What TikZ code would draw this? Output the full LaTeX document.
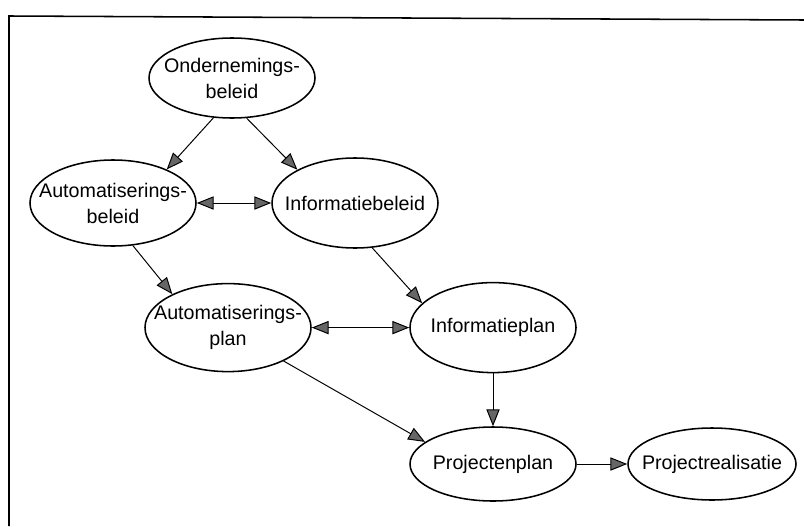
\documentclass[tikz,border=0pt]{standalone}
\usepackage{fontspec}
\setmainfont{Liberation Sans}
\usetikzlibrary{shapes.geometric,arrows.meta}
\begin{document}
\begin{tikzpicture}[
    fase/.style={ellipse, draw, line width=1.1pt, inner xsep=-1cm, inner ysep=0pt,
      minimum width=4.15cm, minimum height=2.2cm, align=center,
      font=\fontsize{14}{18.5}\selectfont},
    >={Triangle[length=4.2mm,width=3.3mm,fill=black!60]},
    pijl/.style={->, line width=0.7pt}
  ]
  \useasboundingbox (0,0) rectangle (20.1,13.15);
  \draw[line width=1.1pt] (0.225,0) -- (0.225,12.75) -- (20.1,12.65);
  \node[fase, minimum height=2cm] (OB) at (5.8,11.2) {Ondernemings-\\beleid};
  \node[fase, minimum height=2.15cm] (AB) at (2.825,8.075) {Automatiserings-\\beleid};
  \node[fase, minimum height=2.25cm] (IB) at (8.875,8.075) {Informatiebeleid};
  \node[fase] (AP) at (5.7,4.96) {Automatiserings-\\plan};
  \node[fase, minimum height=2.25cm] (IP) at (12.325,4.96) {Informatieplan};
  \node[fase, minimum height=1.85cm] (PP) at (12.325,1.55) {Projectenplan};
  \node[fase, minimum height=1.8cm, minimum width=4.2cm] (PR) at (17.8,1.55) {Projectrealisatie};
  \draw[pijl] (OB.245) -- (AB.32);
  \draw[pijl] (OB.290) -- (IB.150);
  \draw[pijl, <->] (AB) -- (IB);
  \draw[pijl] (AB.295) -- (AP.149);
  \draw[pijl] (IB.291) -- (IP.161);
  \draw[pijl, <->] (AP) -- (IP);
  \draw[pijl] (AP.329) -- (PP.162);
  \draw[pijl] (IP) -- (PP);
  \draw[pijl] (PP) -- (PR);
\end{tikzpicture}
\end{document}
